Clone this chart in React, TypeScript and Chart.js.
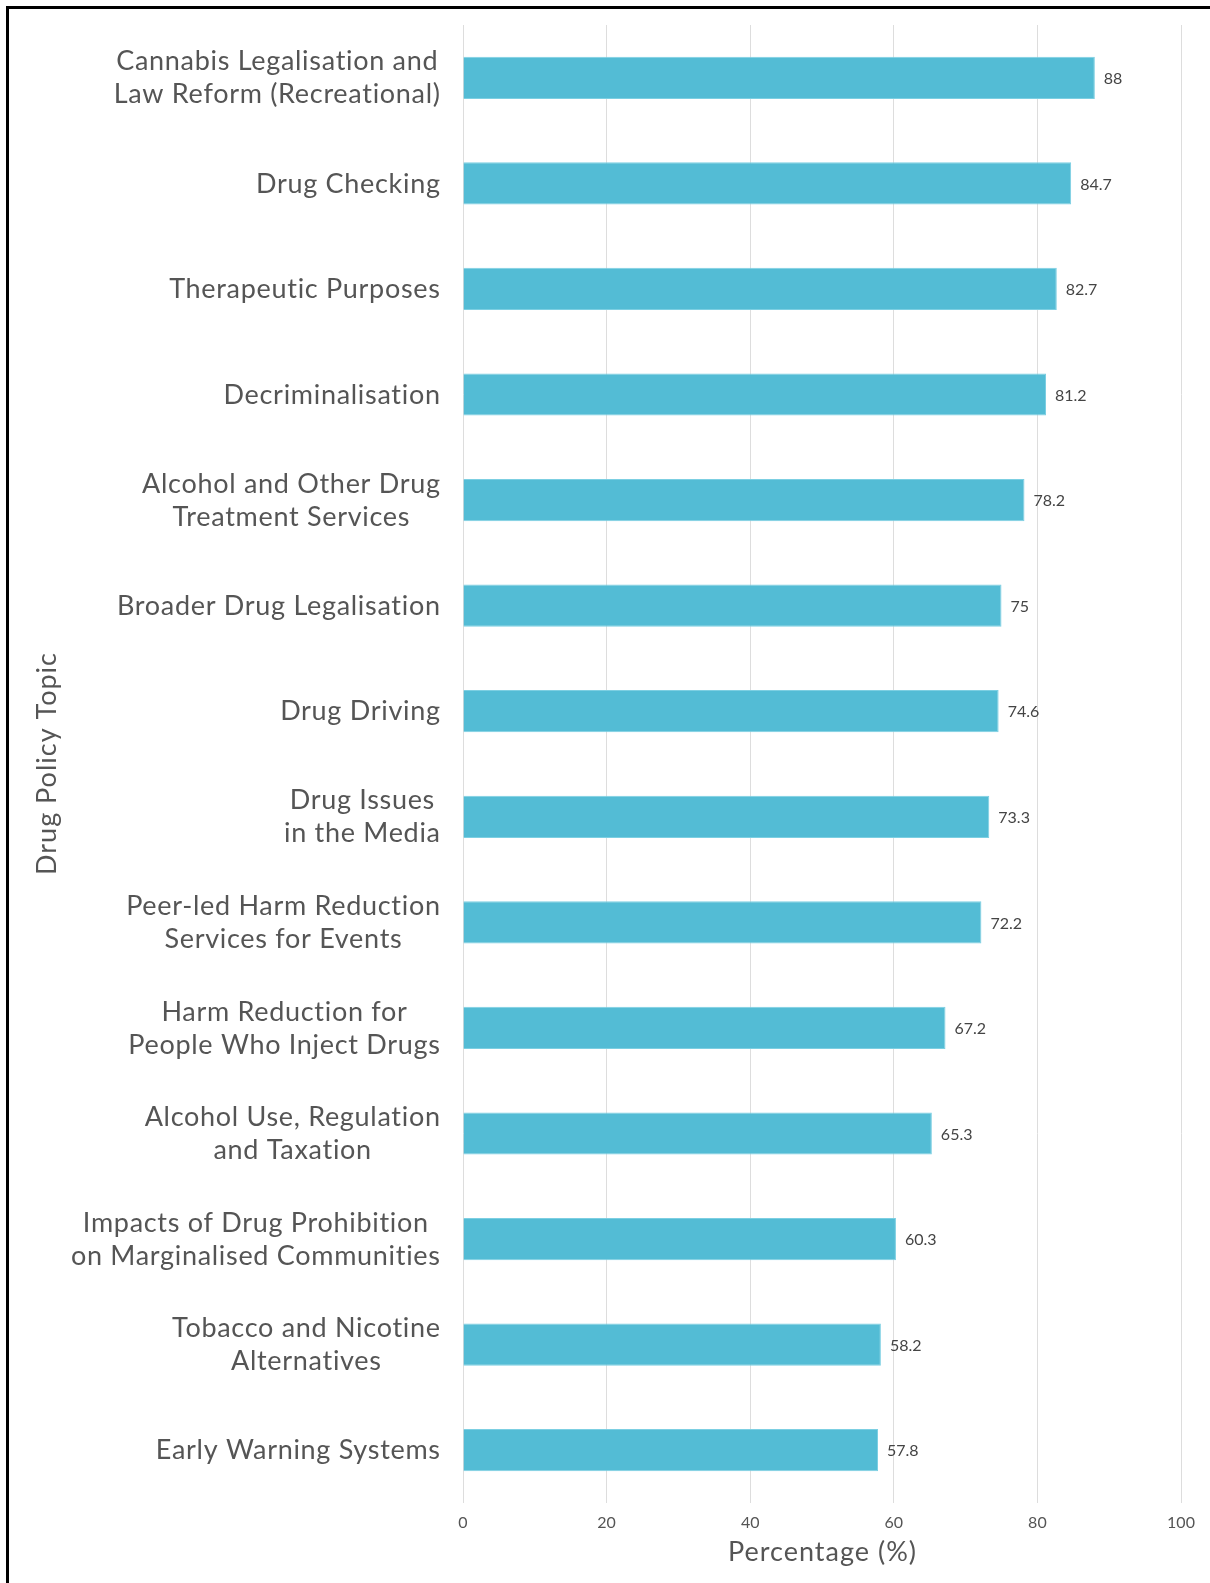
import React, { useEffect, useRef } from "react";
import { Chart, registerables } from "chart.js";

Chart.register(...registerables);

const categories: string[][] = [
  ["Cannabis Legalisation and", "Law Reform (Recreational)"],
  ["Drug Checking"],
  ["Therapeutic Purposes"],
  ["Decriminalisation"],
  ["Alcohol and Other Drug", "Treatment Services"],
  ["Broader Drug Legalisation"],
  ["Drug Driving"],
  ["Drug Issues", "in the Media"],
  ["Peer-led Harm Reduction", "Services for Events"],
  ["Harm Reduction for", "People Who Inject Drugs"],
  ["Alcohol Use, Regulation", "and Taxation"],
  ["Impacts of Drug Prohibition", "on Marginalised Communities"],
  ["Tobacco and Nicotine", "Alternatives"],
  ["Early Warning Systems"],
];

const values: number[] = [88, 84.7, 82.7, 81.2, 78.2, 75, 74.6, 73.3, 72.2, 67.2, 65.3, 60.3, 58.2, 57.8];

const xTickValues: number[] = [0, 20, 40, 60, 80, 100];

const xTitle = "Percentage (%)";
const yTitle = "Drug Policy Topic";

const FONT = "Lato, 'Open Sans', sans-serif";
const BIG_FONT = `400 27px ${FONT}`;
const LABEL_SPACING = 0.7;
const TITLE_SPACING = 1;

export default function App() {
  const ref = useRef<HTMLCanvasElement | null>(null);

  useEffect(() => {
    if (!ref.current) return;

    const textPlugin = {
      id: "bigText",
      afterDraw(chart: any) {
        const ctx = chart.ctx;
        const ys = chart.scales.y;
        const area = chart.chartArea;
        ctx.save();
        ctx.font = BIG_FONT;
        ctx.fillStyle = "#555555";
        ctx.textAlign = "center";
        ctx.textBaseline = "middle";
        (ctx as any).letterSpacing = `${LABEL_SPACING}px`;
        const lh = 33;
        // category labels: block right-aligned, lines centred within block
        categories.forEach((lines, i) => {
          const cy = ys.getPixelForTick(i) + 0.5;
          const w = Math.max(...lines.map((l) => ctx.measureText(l).width - LABEL_SPACING));
          const cx = area.left - 23 - w / 2;
          lines.forEach((l, j) => {
            ctx.fillText(l, cx + LABEL_SPACING / 2, cy + (j - (lines.length - 1) / 2) * lh);
          });
        });
        (ctx as any).letterSpacing = `${TITLE_SPACING}px`;
        // x title
        ctx.fillText(xTitle, (area.left + area.right) / 2 + TITLE_SPACING / 2, 1552);
        // y title
        ctx.save();
        ctx.translate(47.5, (area.top + area.bottom) / 2);
        ctx.rotate(-Math.PI / 2);
        ctx.fillText(yTitle, TITLE_SPACING / 2, 0);
        ctx.restore();
        ctx.restore();
      },
    };

    const valueLabels = {
      id: "valueLabels",
      afterDatasetsDraw(chart: any) {
        const ctx = chart.ctx;
        const meta = chart.getDatasetMeta(0);
        ctx.save();
        ctx.font = `400 16px ${FONT}`;
        ctx.fillStyle = "#444444";
        ctx.textAlign = "left";
        ctx.textBaseline = "middle";
        meta.data.forEach((bar: any, i: number) => {
          ctx.fillText(String(values[i]), bar.x + 9, bar.y + 1);
        });
        ctx.restore();
      },
    };

    const chart = new Chart(ref.current, {
      type: "bar",
      data: {
        labels: categories.map((c) => c.join(" ")),
        datasets: [
          {
            data: values,
            backgroundColor: "#53bcd5",
            borderColor: "#7ccfe2",
            borderWidth: 1,
            barPercentage: 0.4,
            categoryPercentage: 1,
          },
        ],
      },
      options: {
        indexAxis: "y",
        responsive: false,
        animation: false,
        devicePixelRatio: 1,
        layout: { padding: { left: 0, right: 29, top: 25, bottom: 0 } },
        plugins: {
          legend: { display: false },
          tooltip: { enabled: false },
        },
        scales: {
          x: {
            min: 0,
            max: 100,
            afterBuildTicks(scale: any) {
              scale.ticks = xTickValues.map((v) => ({ value: v }));
            },
            afterFit(scale: any) {
              scale.height = 80;
            },
            grid: { color: "#dddddd", lineWidth: 1, drawTicks: false },
            border: { display: false },
            ticks: {
              padding: 10,
              color: "#555555",
              font: { family: FONT, size: 16 },
            },
            title: { display: false, text: xTitle },
          },
          y: {
            afterFit(scale: any) {
              scale.width = 463;
            },
            grid: { display: false },
            border: { display: false },
            ticks: { display: false },
            title: { display: false, text: yTitle },
          },
        },
      } as any,
      plugins: [textPlugin, valueLabels],
    });

    return () => chart.destroy();
  }, []);

  return (
    <div
      style={{
        position: "absolute",
        left: 0,
        top: 0,
        width: 1210,
        height: 1583,
        background: "#ffffff",
        overflow: "hidden",
      }}
    >
      <canvas
        ref={ref}
        width={1210}
        height={1583}
        style={{ position: "absolute", left: 0, top: 0, width: 1210, height: 1583 }}
      />
      <div
        style={{
          position: "absolute",
          left: 6,
          top: 6,
          width: 1210,
          height: 1583,
          borderLeft: "3px solid #000",
          borderTop: "3px solid #000",
          boxSizing: "border-box",
          pointerEvents: "none",
        }}
      />
    </div>
  );
}
